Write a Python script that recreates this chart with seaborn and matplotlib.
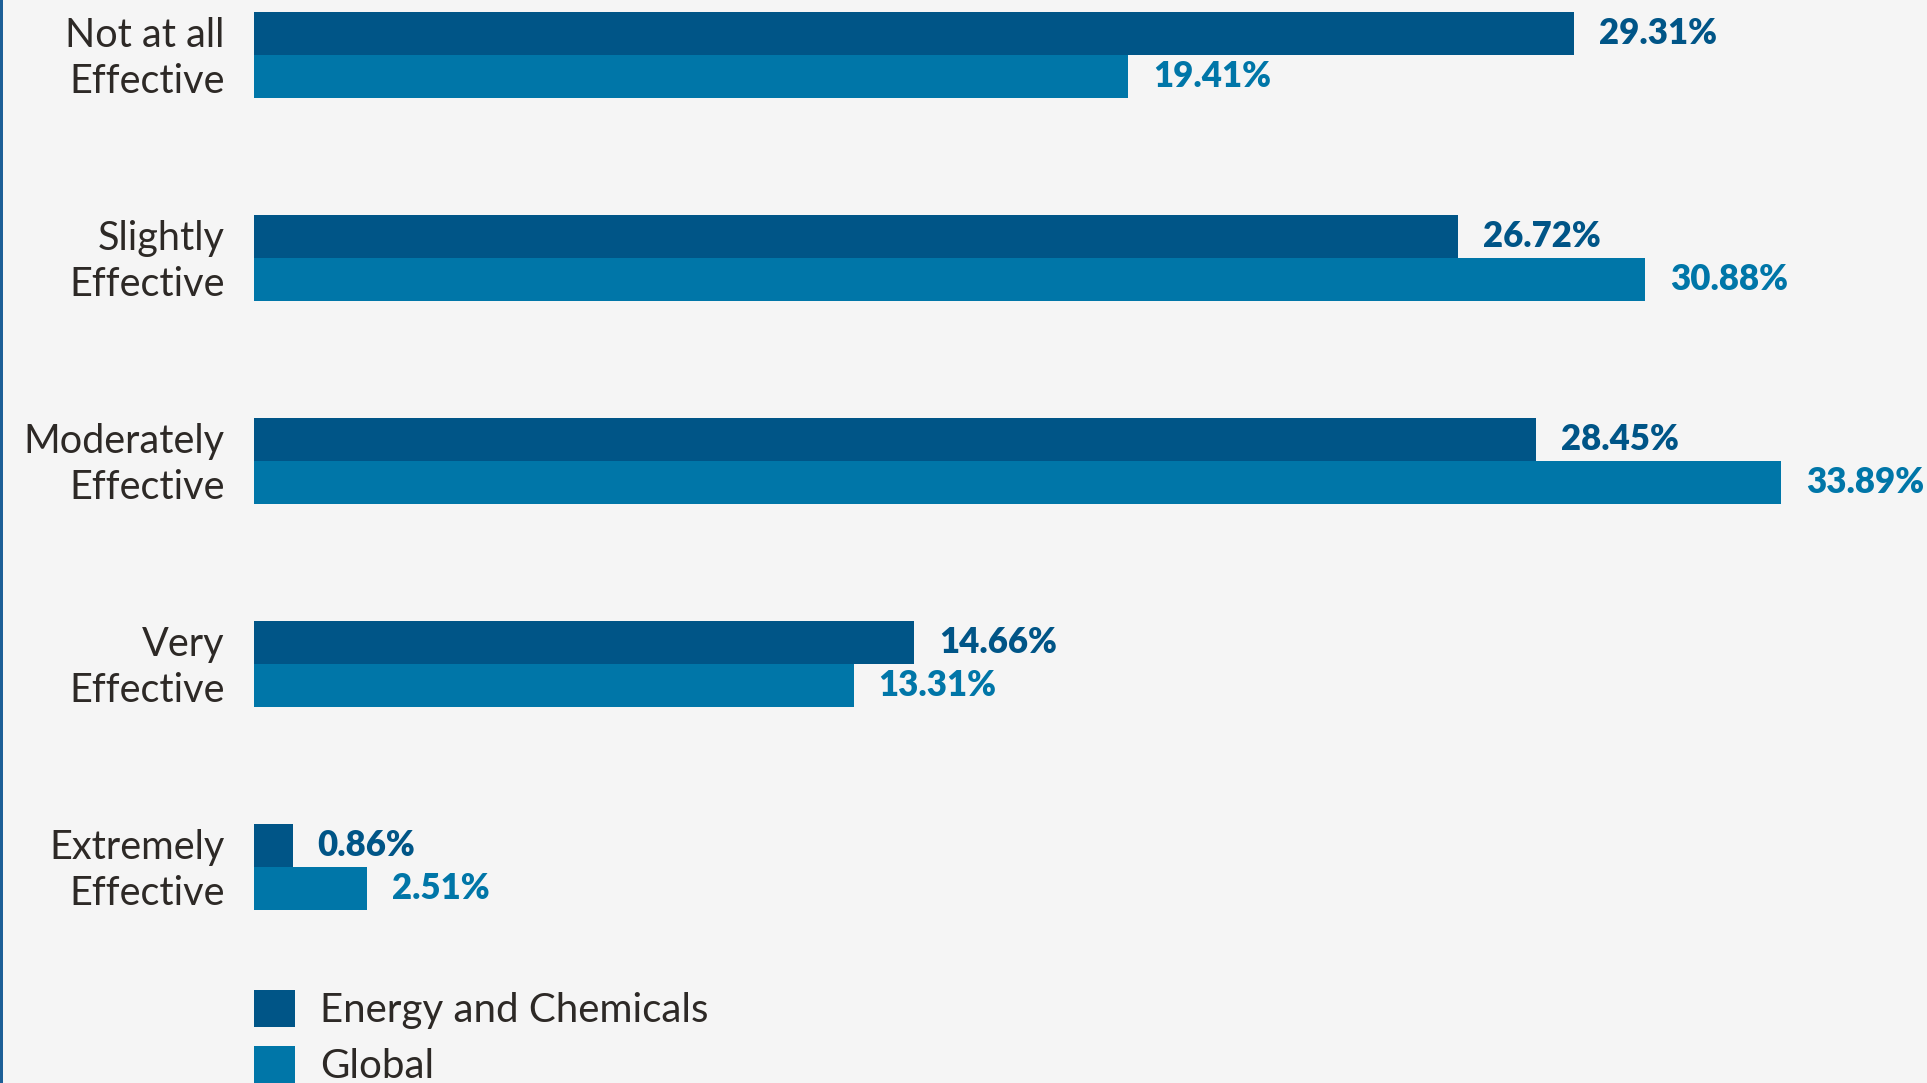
import numpy as np
import pandas as pd
import seaborn as sns
import matplotlib.pyplot as plt
from matplotlib.transforms import ScaledTranslation

# data
categories=["Not at all\nEffective","Slightly\nEffective","Moderately\nEffective",
    "Very\nEffective","Extremely\nEffective"]
energy=[29.31,26.72,28.45,14.66,0.86]
global_=[19.41,30.88,33.89,13.31,2.51]
groups=["Energy and Chemicals","Global"]

dark="#005587"
light="#0076a8"
ink="#2d2926"
bg="#f5f5f5"

sns.set_style("white")
plt.rcParams["font.family"]=["Lato","DejaVu Sans"]

df=pd.DataFrame({
    "category":categories*2,
    "value":energy+global_,
    "group":[groups[0]]*len(energy)+[groups[1]]*len(global_)})

W,H=1927,1083
fg=plt.figure(figsize=(W/100,H/100),dpi=100,facecolor=bg)
ax=fg.add_axes([254/W,0,1-254/W,1])
ax.set_facecolor(bg)

sns.barplot(data=df,y="category",x="value",hue="group",
    hue_order=groups,palette=[dark,light],orient="h",
    width=0.425,saturation=1,linewidth=0,ax=ax)

#value labels at the bar ends
for cont,col in zip(ax.containers,[dark,light]):
    ax.bar_label(cont,labels=[f"{v:.2f}%" for v in cont.datavalues],
        padding=18,color=col,fontsize=25,fontweight="heavy")

ax.set_xlim(0,1673/45.05)
ax.set_ylim(5.064,-0.271)
ax.set_xlabel("")
ax.set_ylabel("")
ax.set_xticks([])
ax.tick_params(axis="y",length=0,pad=21,labelsize=28.5,labelcolor=ink)
lift=ScaledTranslation(0,5/100,fg.dpi_scale_trans)
for tl in ax.get_yticklabels():
    tl.set_linespacing(1.3)
    tl.set_transform(tl.get_transform()+lift)
for s in ax.spines.values():
    s.set_visible(False)

h,l=ax.get_legend_handles_labels()
ax.legend(h,l,loc="upper left",bbox_to_anchor=(254/W,(H-990)/H),
    bbox_transform=fg.transFigure,frameon=False,fontsize=29,labelcolor=ink,
    handlelength=1.02,handleheight=1.05,handletextpad=0.62,labelspacing=0.4,
    borderpad=0,borderaxespad=0)

#thin accent line on the left edge
fg.add_artist(plt.Rectangle((0,0),2.5/W,1,transform=fg.transFigure,
    color="#1d5f97",lw=0))

fg.savefig("out.png",dpi=100,facecolor=bg)
